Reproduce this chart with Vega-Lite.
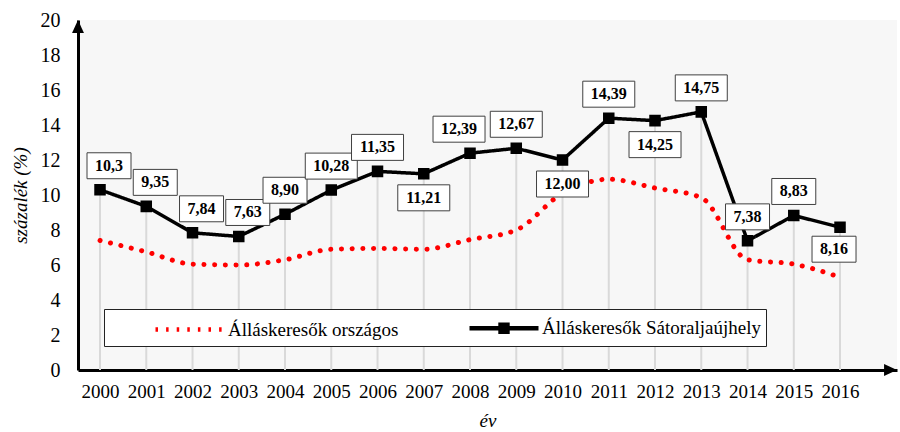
{
  "$schema": "https://vega.github.io/schema/vega-lite/v6.json",
  "width": 819,
  "height": 350,
  "autosize": "none",
  "padding": {"left": 78, "top": 20, "right": 3, "bottom": 62},
  "background": "white",
  "config": {
    "view": {"stroke": null, "fill": "#f7f7f7"},
    "font": "Liberation Serif",
    "axis": {"labelFont": "Liberation Serif", "titleFont": "Liberation Serif", "labelColor": "#000", "titleColor": "#000", "domainColor": "#000", "domainWidth": 3, "ticks": false, "tickSize": 0, "grid": false, "zindex": 1}
  },
  "data": {"values": [
      {"year": 2000, "series": "Álláskeresők országos", "value": 7.4, "label": ""},
      {"year": 2001, "series": "Álláskeresők országos", "value": 6.75, "label": ""},
      {"year": 2002, "series": "Álláskeresők országos", "value": 6.05, "label": ""},
      {"year": 2003, "series": "Álláskeresők országos", "value": 6.0, "label": ""},
      {"year": 2004, "series": "Álláskeresők országos", "value": 6.3, "label": ""},
      {"year": 2005, "series": "Álláskeresők országos", "value": 6.9, "label": ""},
      {"year": 2006, "series": "Álláskeresők országos", "value": 6.95, "label": ""},
      {"year": 2007, "series": "Álláskeresők országos", "value": 6.9, "label": ""},
      {"year": 2008, "series": "Álláskeresők országos", "value": 7.45, "label": ""},
      {"year": 2009, "series": "Álláskeresők országos", "value": 8.0, "label": ""},
      {"year": 2010, "series": "Álláskeresők országos", "value": 10.1, "label": ""},
      {"year": 2011, "series": "Álláskeresők országos", "value": 10.9, "label": ""},
      {"year": 2012, "series": "Álláskeresők országos", "value": 10.4, "label": ""},
      {"year": 2013, "series": "Álláskeresők országos", "value": 9.85, "label": ""},
      {"year": 2014, "series": "Álláskeresők országos", "value": 6.3, "label": ""},
      {"year": 2015, "series": "Álláskeresők országos", "value": 6.05, "label": ""},
      {"year": 2016, "series": "Álláskeresők országos", "value": 5.3, "label": ""},
      {"year": 2000, "series": "Álláskeresők Sátoraljaújhely", "value": 10.3, "label": "10,3"},
      {"year": 2001, "series": "Álláskeresők Sátoraljaújhely", "value": 9.35, "label": "9,35"},
      {"year": 2002, "series": "Álláskeresők Sátoraljaújhely", "value": 7.84, "label": "7,84"},
      {"year": 2003, "series": "Álláskeresők Sátoraljaújhely", "value": 7.63, "label": "7,63"},
      {"year": 2004, "series": "Álláskeresők Sátoraljaújhely", "value": 8.9, "label": "8,90"},
      {"year": 2005, "series": "Álláskeresők Sátoraljaújhely", "value": 10.28, "label": "10,28"},
      {"year": 2006, "series": "Álláskeresők Sátoraljaújhely", "value": 11.35, "label": "11,35"},
      {"year": 2007, "series": "Álláskeresők Sátoraljaújhely", "value": 11.21, "label": "11,21"},
      {"year": 2008, "series": "Álláskeresők Sátoraljaújhely", "value": 12.39, "label": "12,39"},
      {"year": 2009, "series": "Álláskeresők Sátoraljaújhely", "value": 12.67, "label": "12,67"},
      {"year": 2010, "series": "Álláskeresők Sátoraljaújhely", "value": 12.0, "label": "12,00"},
      {"year": 2011, "series": "Álláskeresők Sátoraljaújhely", "value": 14.39, "label": "14,39"},
      {"year": 2012, "series": "Álláskeresők Sátoraljaújhely", "value": 14.25, "label": "14,25"},
      {"year": 2013, "series": "Álláskeresők Sátoraljaújhely", "value": 14.75, "label": "14,75"},
      {"year": 2014, "series": "Álláskeresők Sátoraljaújhely", "value": 7.38, "label": "7,38"},
      {"year": 2015, "series": "Álláskeresők Sátoraljaújhely", "value": 8.83, "label": "8,83"},
      {"year": 2016, "series": "Álláskeresők Sátoraljaújhely", "value": 8.16, "label": "8,16"}
  ]},
  "encoding": {
    "x": {
      "field": "year", "type": "quantitative",
      "scale": {"domain": [1999.524, 2017.232], "nice": false, "zero": false},
      "axis": {"values": [2000, 2001, 2002, 2003, 2004, 2005, 2006, 2007, 2008, 2009, 2010, 2011, 2012, 2013, 2014, 2015, 2016], "format": "d", "labelFontSize": 19, "labelPadding": 12, "labelFlush": false, "labelOverlap": false, "title": "év", "titleFontSize": 19, "titleFontStyle": "italic", "titleFontWeight": "normal", "titlePadding": 10}
    },
    "y": {
      "field": "value", "type": "quantitative",
      "scale": {"domain": [0, 20], "nice": false},
      "axis": {"values": [0, 2, 4, 6, 8, 10, 12, 14, 16, 18, 20], "labelFontSize": 20, "labelPadding": 18, "title": "százalék (%)", "titleFontSize": 19, "titleFontStyle": "italic", "titleFontWeight": "normal", "titlePadding": 10}
    }
  },
  "layer": [
    {
      "transform": [{"filter": {"field": "series", "equal": "Álláskeresők Sátoraljaújhely"}}],
      "mark": {"type": "rule", "color": "#d9d9d9", "strokeWidth": 2},
      "encoding": {"y2": {"datum": 0}}
    },
    {
      "transform": [{"filter": {"field": "series", "equal": "Álláskeresők országos"}}],
      "mark": {"type": "line", "interpolate": "monotone", "strokeDash": [0.1, 10.6], "strokeCap": "round", "strokeWidth": 5},
      "encoding": {
        "color": {
          "field": "series", "type": "nominal", "title": null,
          "scale": {"domain": ["Álláskeresők országos", "Álláskeresők Sátoraljaújhely"], "range": ["#ff0000", "#000000"]},
          "legend": {
            "orient": "none", "legendX": 26, "legendY": 289, "direction": "horizontal",
            "title": null,
            "padding": 5, "strokeColor": "#222", "fillColor": "#ffffff",
            "labelFont": "Liberation Serif", "labelFontSize": 19, "labelColor": "#000", "labelLimit": 600,
            "symbolSize": 529, "symbolStrokeWidth": 4.5, "symbolOffset": 67, "labelOffset": 24, "columnPadding": 24,
            "labelExpr": "datum.label == 'Álláskeresők Sátoraljaújhely' ? datum.label + '\u00a0\u00a0\u00a0\u00a0\u00a0\u00a0\u00a0\u00a0\u00a0\u00a0\u00a0\u00a0\u00a0' : datum.label"
          }
        }
      }
    },
    {
      "transform": [{"filter": {"field": "series", "equal": "Álláskeresők Sátoraljaújhely"}}],
      "mark": {"type": "line", "strokeWidth": 3.5},
      "encoding": {
        "color": {"field": "series", "type": "nominal", "title": null},
        "strokeDash": {"field": "series", "type": "nominal", "title": null, "scale": {"domain": ["Álláskeresők országos", "Álláskeresők Sátoraljaújhely"], "range": [[2.5, 8.1], [1, 0]]}}
      }
    },
    {
      "transform": [{"filter": {"field": "series", "equal": "Álláskeresők Sátoraljaújhely"}}],
      "mark": {"type": "point", "filled": true, "size": 1470, "color": "#000000", "opacity": 1},
      "encoding": {
        "shape": {"field": "series", "type": "nominal", "title": null, "scale": {"domain": ["Álláskeresők országos", "Álláskeresők Sátoraljaújhely"], "range": ["M-3,0L3,0", "M-3,0L3,0M-0.3,-0.3L0.3,-0.3L0.3,0.3L-0.3,0.3Z"]}}
      }
    },
    {
      "transform": [{"filter": {"field": "series", "equal": "Álláskeresők Sátoraljaújhely"}}, {"filter": {"field": "year", "oneOf": [2000, 2001, 2002, 2003]}}],
      "layer": [
        {"mark": {"type": "point", "shape": "M-1,-0.59L1,-0.59L1,0.59L-1,0.59Z", "size": 1936, "filled": true, "fill": "#ffffff", "stroke": "#404040", "strokeWidth": 1, "opacity": 1, "yOffset": -24, "xOffset": 9}},
        {"mark": {"type": "text", "font": "Liberation Serif", "fontSize": 16, "fontWeight": "bold", "color": "#000", "align": "center", "baseline": "middle", "yOffset": -24, "xOffset": 9}, "encoding": {"text": {"field": "label"}}}
      ]
    },
    {
      "transform": [{"filter": {"field": "series", "equal": "Álláskeresők Sátoraljaújhely"}}, {"filter": {"field": "year", "oneOf": [2004, 2014, 2015]}}],
      "layer": [
        {"mark": {"type": "point", "shape": "M-1,-0.59L1,-0.59L1,0.59L-1,0.59Z", "size": 1936, "filled": true, "fill": "#ffffff", "stroke": "#404040", "strokeWidth": 1, "opacity": 1, "yOffset": -24}},
        {"mark": {"type": "text", "font": "Liberation Serif", "fontSize": 16, "fontWeight": "bold", "color": "#000", "align": "center", "baseline": "middle", "yOffset": -24}, "encoding": {"text": {"field": "label"}}}
      ]
    },
    {
      "transform": [{"filter": {"field": "series", "equal": "Álláskeresők Sátoraljaújhely"}}, {"filter": {"field": "year", "oneOf": [2005, 2006, 2009, 2011, 2013]}}],
      "layer": [
        {"mark": {"type": "point", "shape": "M-1,-0.5L1,-0.5L1,0.5L-1,0.5Z", "size": 2704, "filled": true, "fill": "#ffffff", "stroke": "#404040", "strokeWidth": 1, "opacity": 1, "yOffset": -24}},
        {"mark": {"type": "text", "font": "Liberation Serif", "fontSize": 16, "fontWeight": "bold", "color": "#000", "align": "center", "baseline": "middle", "yOffset": -24}, "encoding": {"text": {"field": "label"}}}
      ]
    },
    {
      "transform": [{"filter": {"field": "series", "equal": "Álláskeresők Sátoraljaújhely"}}, {"filter": {"field": "year", "oneOf": [2008]}}],
      "layer": [
        {"mark": {"type": "point", "shape": "M-1,-0.5L1,-0.5L1,0.5L-1,0.5Z", "size": 2704, "filled": true, "fill": "#ffffff", "stroke": "#404040", "strokeWidth": 1, "opacity": 1, "yOffset": -24, "xOffset": -11}},
        {"mark": {"type": "text", "font": "Liberation Serif", "fontSize": 16, "fontWeight": "bold", "color": "#000", "align": "center", "baseline": "middle", "yOffset": -24, "xOffset": -11}, "encoding": {"text": {"field": "label"}}}
      ]
    },
    {
      "transform": [{"filter": {"field": "series", "equal": "Álláskeresők Sátoraljaújhely"}}, {"filter": {"field": "year", "oneOf": [2007, 2010, 2012]}}],
      "layer": [
        {"mark": {"type": "point", "shape": "M-1,-0.5L1,-0.5L1,0.5L-1,0.5Z", "size": 2704, "filled": true, "fill": "#ffffff", "stroke": "#404040", "strokeWidth": 1, "opacity": 1, "yOffset": 24}},
        {"mark": {"type": "text", "font": "Liberation Serif", "fontSize": 16, "fontWeight": "bold", "color": "#000", "align": "center", "baseline": "middle", "yOffset": 24}, "encoding": {"text": {"field": "label"}}}
      ]
    },
    {
      "transform": [{"filter": {"field": "series", "equal": "Álláskeresők Sátoraljaújhely"}}, {"filter": {"field": "year", "oneOf": [2016]}}],
      "layer": [
        {"mark": {"type": "point", "shape": "M-1,-0.59L1,-0.59L1,0.59L-1,0.59Z", "size": 1936, "filled": true, "fill": "#ffffff", "stroke": "#404040", "strokeWidth": 1, "opacity": 1, "yOffset": 22, "xOffset": -6}},
        {"mark": {"type": "text", "font": "Liberation Serif", "fontSize": 16, "fontWeight": "bold", "color": "#000", "align": "center", "baseline": "middle", "yOffset": 22, "xOffset": -6}, "encoding": {"text": {"field": "label"}}}
      ]
    },
    {
      "transform": [{"filter": "datum.year == 2000 && datum.label == ''"}],
      "mark": {"type": "point", "shape": "M0,-1L0.85,0.85L-0.85,0.85Z", "size": 196, "filled": true, "color": "#000", "opacity": 1, "yOffset": 7},
      "encoding": {"x": {"datum": 1999.524, "type": "quantitative"}, "y": {"datum": 20, "type": "quantitative"}}
    },
    {
      "transform": [{"filter": "datum.year == 2000 && datum.label == ''"}],
      "mark": {"type": "point", "shape": "M1,0L-0.85,0.85L-0.85,-0.85Z", "size": 196, "filled": true, "color": "#000", "opacity": 1, "xOffset": -7},
      "encoding": {"x": {"datum": 2017.232, "type": "quantitative"}, "y": {"datum": 0, "type": "quantitative"}}
    }
  ]
}
